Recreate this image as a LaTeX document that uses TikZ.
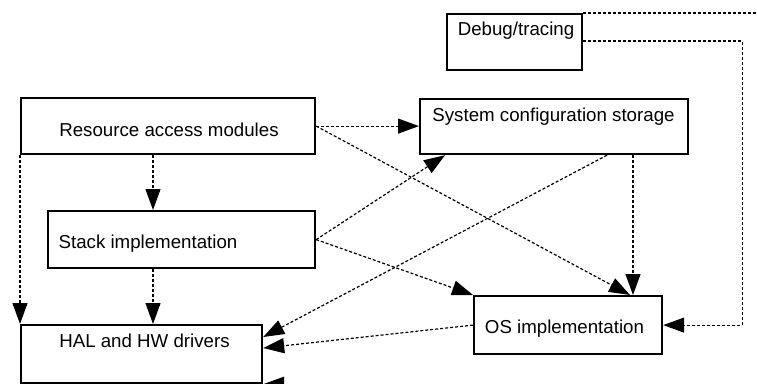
\documentclass[tikz,border=0pt]{standalone}
\usepackage{fontspec}
\setmainfont{Liberation Sans}
\usetikzlibrary{arrows.meta}

\begin{document}
\begin{tikzpicture}[x=1pt, y=-1pt, >={Triangle[length=21pt,width=15pt]},
  box/.style={draw, rectangle, line width=2.2pt, anchor=north west, inner sep=0pt},
  txt/.style={anchor=base, inner sep=0pt, font=\fontsize{18.7}{22}\selectfont},
  dep/.style={->, line width=1.2pt, dash pattern=on 3pt off 2pt}]
  % picture frame, everything outside is cut away
  \useasboundingbox (0,0) rectangle (757,383);
  \clip (0,0) rectangle (757,383);

  % The boxes
  \node[box, minimum width=135pt, minimum height=56pt] (dbg) at (446,13) {};
  \node[box, minimum width=294pt, minimum height=56pt] (res) at (20,97) {};
  \node[box, minimum width=268pt, minimum height=55pt] (cfg) at (419,98) {};
  \node[box, minimum width=267pt, minimum height=57pt] (stk) at (47,210) {};
  \node[box, minimum width=241pt, minimum height=58pt] (hal) at (20,324) {};
  \node[box, minimum width=188pt, minimum height=58pt] (os) at (473,295) {};

  % The box texts
  \node[txt] (dbgtxt) at (516,35.5) {Debug/tracing};
  \node[txt] (restxt) at (169,136) {Resource access modules};
  \node[txt] (cfgtxt) at (553.5,121) {System configuration storage};
  \node[txt] (stktxt) at (148,248) {Stack implementation};
  \node[txt] (haltxt) at (144.5,347) {HAL and HW drivers};
  \node[txt] (ostxt) at (564.5,333) {OS implementation};

  % Resource access modules
  \draw[dep] (res.east) -- (res.east -| cfg.west);
  \draw[dep] (res.east) -- ([xshift=157pt]os.north west);
  \draw[dep] ([xshift=133pt]res.south west) -- ([xshift=133pt]res.south west |- stk.north);
  \draw[dep] (res.south west) -- (hal.north west);

  % Stack implementation
  \draw[dep] ([xshift=106pt]stk.south west) -- ([xshift=106pt]stk.south west |- hal.north);
  \draw[dep] (stk.east) -- ([xshift=26pt]cfg.south west);
  \draw[dep] (stk.east) -- (os.north west);

  % System configuration storage
  \draw[dep] ([xshift=188pt]cfg.south west) -- ([yshift=-13pt]hal.north east);
  \draw[dep] ([xshift=214pt]cfg.south west) -- ([xshift=214pt]cfg.south west |- os.north);

  % OS implementation
  \draw[dep] (os.west) -- ([yshift=-24pt]hal.north east);

  % Debug/tracing, routed round the right side
  \draw[dep] ([yshift=-28pt]dbg.north east) -- ++(159,0) |- (os.east);
  \draw[dep] (dbg.north east) -- ++(200,0) |- (hal.south east);
\end{tikzpicture}
\end{document}
